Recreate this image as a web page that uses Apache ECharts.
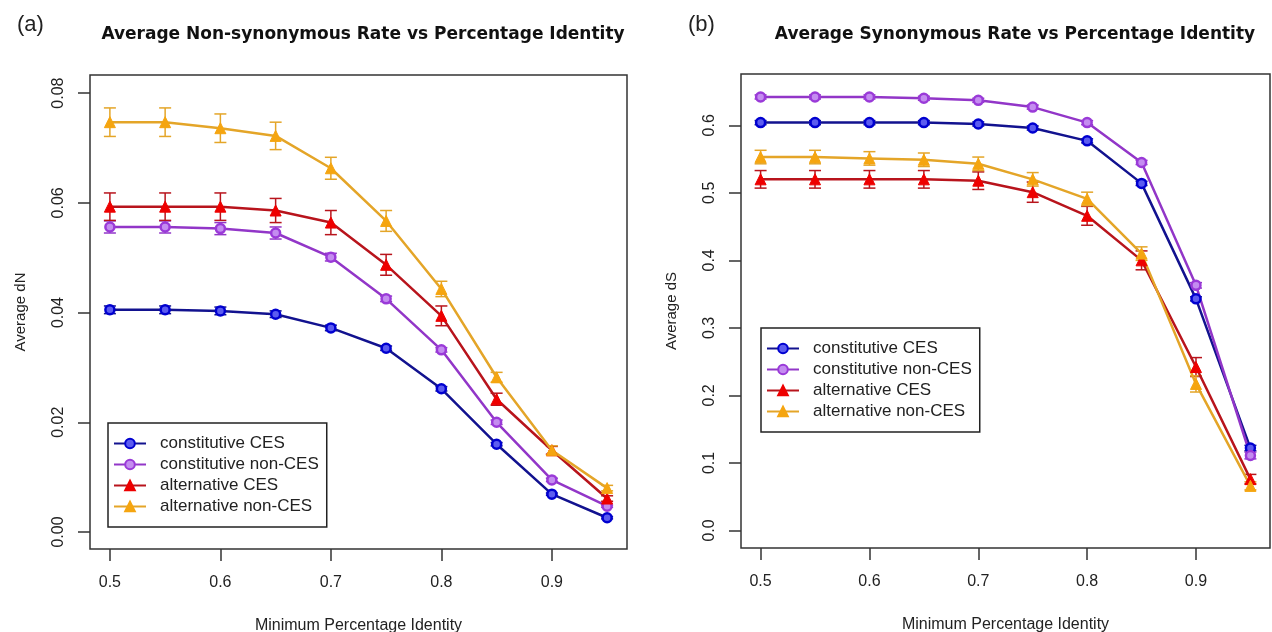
<!DOCTYPE html>
<html>
<head>
<meta charset="utf-8">
<script src="https://cdn.jsdelivr.net/npm/echarts@6/dist/echarts.min.js"></script>
<style>
  html, body { margin: 0; padding: 0; background: #fff; }
  #chart { width: 1272px; height: 632px; }
</style>
</head>
<body>
<div id="chart"></div>
<script>
// minimum percentage identity thresholds
const identity = [0.5, 0.55, 0.6, 0.65, 0.7, 0.75, 0.8, 0.85, 0.9, 0.95];

const seriesNames = ["constitutive CES", "constitutive non-CES", "alternative CES", "alternative non-CES"];

// (a) average dN
const dnConstCES    = [0.0405, 0.0405, 0.0403, 0.0397, 0.0372, 0.0335, 0.0261, 0.0160, 0.0069, 0.0026];
const dnConstNonCES = [0.0556, 0.0556, 0.0553, 0.0545, 0.0501, 0.0425, 0.0332, 0.0200, 0.0095, 0.0047];
const dnAltCES      = [0.0593, 0.0593, 0.0593, 0.0586, 0.0564, 0.0487, 0.0394, 0.0242, 0.0149, 0.0061];
const dnAltNonCES   = [0.0747, 0.0747, 0.0736, 0.0722, 0.0663, 0.0567, 0.0443, 0.0282, 0.0149, 0.0080];

const dnConstCESErr    = [0.0007, 0.0007, 0.0007, 0.0006, 0.0005, 0.0004, 0.0004, 0.0003, 0.0002, 0.0002];
const dnConstNonCESErr = [0.0011, 0.0011, 0.0011, 0.0011, 0.0007, 0.0005, 0.0004, 0.0004, 0.0003, 0.0002];
const dnAltCESErr      = [0.0025, 0.0025, 0.0025, 0.0022, 0.0022, 0.0019, 0.0018, 0.0011, 0.0007, 0.0005];
const dnAltNonCESErr   = [0.0026, 0.0026, 0.0026, 0.0025, 0.0020, 0.0019, 0.0014, 0.0009, 0.0008, 0.0005];

// (b) average dS
const dsConstCES    = [0.604, 0.604, 0.604, 0.604, 0.602, 0.596, 0.577, 0.514, 0.343, 0.122];
const dsConstNonCES = [0.642, 0.642, 0.642, 0.640, 0.637, 0.627, 0.604, 0.545, 0.363, 0.111];
const dsAltCES      = [0.520, 0.520, 0.520, 0.520, 0.518, 0.501, 0.466, 0.400, 0.242, 0.076];
const dsAltNonCES   = [0.553, 0.553, 0.551, 0.549, 0.543, 0.520, 0.491, 0.410, 0.217, 0.066];

const dsConstCESErr    = [0.003, 0.003, 0.003, 0.003, 0.003, 0.003, 0.003, 0.003, 0.003, 0.004];
const dsConstNonCESErr = [0.003, 0.003, 0.003, 0.003, 0.003, 0.003, 0.003, 0.003, 0.004, 0.005];
const dsAltCESErr      = [0.013, 0.013, 0.013, 0.013, 0.013, 0.015, 0.014, 0.014, 0.014, 0.007];
const dsAltNonCESErr   = [0.010, 0.010, 0.010, 0.010, 0.010, 0.010, 0.010, 0.010, 0.012, 0.006];

const xTicks = [0.5, 0.6, 0.7, 0.8, 0.9];
const dnTicks = [0, 0.02, 0.04, 0.06, 0.08];
const dsTicks = [0, 0.1, 0.2, 0.3, 0.4, 0.5, 0.6];

const lineColors   = ["#12128f", "#9236c8", "#b8141c", "#e4a528"];
const markerColors = ["#0000d0", "#9a3ad8", "#ee0000", "#f5a510"];
const markerFills  = ["#5c5cf0", "#c48cf0", "#ee0000", "#f5a510"];
const symbols = ["circle", "circle", "triangle", "triangle"];
const symbolSizes = [9, 9, 11, 11];

const FONT = "Liberation Sans";

const chart = echarts.init(document.getElementById("chart"));

function pairs(vals) {
  return identity.map((x, i) => [x, vals[i]]);
}
function errPairs(vals, errs) {
  return identity.map((x, i) => [x, vals[i] - errs[i], vals[i] + errs[i]]);
}

function errorBars(idx, color, data) {
  return {
    type: "custom",
    name: "err" + idx,
    xAxisIndex: idx,
    yAxisIndex: idx,
    silent: true,
    z: 1,
    data: data,
    renderItem: (params, api) => {
      const lo = api.coord([api.value(0), api.value(1)]);
      const hi = api.coord([api.value(0), api.value(2)]);
      const cap = 6;
      const style = { stroke: color, lineWidth: 1.5 };
      return {
        type: "group",
        children: [
          { type: "line", shape: { x1: lo[0], y1: lo[1], x2: hi[0], y2: hi[1] }, style },
          { type: "line", shape: { x1: lo[0] - cap, y1: lo[1], x2: lo[0] + cap, y2: lo[1] }, style },
          { type: "line", shape: { x1: hi[0] - cap, y1: hi[1], x2: hi[0] + cap, y2: hi[1] }, style },
        ],
      };
    },
  };
}

function lineSeries(idx, k, vals) {
  return {
    type: "line",
    name: seriesNames[k],
    xAxisIndex: idx,
    yAxisIndex: idx,
    data: pairs(vals),
    symbol: symbols[k],
    symbolSize: symbolSizes[k],
    showAllSymbol: true,
    z: 3,
    lineStyle: { color: lineColors[k], width: 2.5 },
    itemStyle: { color: markerFills[k], borderColor: markerColors[k], borderWidth: k < 2 ? 2.5 : 1 },
  };
}

const panelA = [dnConstCES, dnConstNonCES, dnAltCES, dnAltNonCES];
const panelAErr = [dnConstCESErr, dnConstNonCESErr, dnAltCESErr, dnAltNonCESErr];
const panelB = [dsConstCES, dsConstNonCES, dsAltCES, dsAltNonCES];
const panelBErr = [dsConstCESErr, dsConstNonCESErr, dsAltCESErr, dsAltNonCESErr];

const series = [];
panelA.forEach((vals, k) => series.push(errorBars(0, lineColors[k], errPairs(vals, panelAErr[k]))));
panelA.forEach((vals, k) => series.push(lineSeries(0, k, vals)));
panelB.forEach((vals, k) => series.push(errorBars(1, lineColors[k], errPairs(vals, panelBErr[k]))));
panelB.forEach((vals, k) => series.push(lineSeries(1, k, vals)));

const tickStyle = { show: true, inside: false, length: 12, lineStyle: { color: "#333", width: 1.5 } };
const labelStyle = { color: "#222", fontFamily: FONT, fontSize: 16 };

function xAxis(gridIndex) {
  return {
    type: "value",
    gridIndex,
    min: 0.482,
    max: 0.968,
    name: "Minimum Percentage Identity",
    nameLocation: "middle",
    nameGap: 69,
    nameTextStyle: { color: "#222", fontFamily: FONT, fontSize: 16 },
    axisLine: { show: false, onZero: false },
    splitLine: { show: false },
    axisTick: Object.assign({ customValues: xTicks }, tickStyle),
    axisLabel: Object.assign({ customValues: xTicks, margin: 26, formatter: (v) => v.toFixed(1) }, labelStyle),
  };
}

function yAxis(gridIndex, name, min, max, ticks, digits, gap) {
  return {
    type: "value",
    gridIndex,
    min,
    max,
    name,
    nameLocation: "middle",
    nameRotate: 90,
    nameGap: gap,
    nameTextStyle: { color: "#222", fontFamily: FONT, fontSize: 15 },
    axisLine: { show: false, onZero: false },
    splitLine: { show: false },
    axisTick: Object.assign({ customValues: ticks }, tickStyle),
    axisLabel: Object.assign({ customValues: ticks, rotate: 90, margin: 23, formatter: (v) => v.toFixed(digits) }, labelStyle),
  };
}

function legend(left, top) {
  return {
    left,
    top,
    orient: "vertical",
    data: seriesNames,
    selectedMode: false,
    backgroundColor: "#fff",
    borderColor: "#222",
    borderWidth: 1.5,
    borderRadius: 0,
    padding: [12, 8, 12, 5],
    itemGap: 4,
    itemWidth: 32,
    itemHeight: 12,
    textStyle: { color: "#222", fontFamily: FONT, fontSize: 17, padding: [0, 0, 0, 9] },
  };
}

const titleFont = { fontFamily: "DejaVu Sans", fontSize: 17, fontWeight: "bold", color: "#111" };

chart.setOption({
  animation: false,
  backgroundColor: "#fff",
  title: [
    { text: "(a)", left: 12, top: 9, textStyle: { fontFamily: FONT, fontSize: 22, fontWeight: "normal", color: "#222" } },
    { text: "Average Non-synonymous Rate vs Percentage Identity", left: 358, top: 21, textAlign: "center", textStyle: titleFont },
    { text: "(b)", left: 683, top: 9, textStyle: { fontFamily: FONT, fontSize: 22, fontWeight: "normal", color: "#222" } },
    { text: "Average Synonymous Rate vs Percentage Identity", left: 1010, top: 21, textAlign: "center", textStyle: titleFont },
  ],
  grid: [
    { left: 90, top: 75, width: 537, height: 474, outerBoundsMode: "none", show: true, borderColor: "#333", borderWidth: 1.5, backgroundColor: "#fff" },
    { left: 741, top: 74, width: 529, height: 474, outerBoundsMode: "none", show: true, borderColor: "#333", borderWidth: 1.5, backgroundColor: "#fff" },
  ],
  xAxis: [xAxis(0), xAxis(1)],
  yAxis: [
    yAxis(0, "Average dN", -0.0031, 0.0833, dnTicks, 2, 62),
    yAxis(1, "Average dS", -0.026, 0.676, dsTicks, 1, 62),
  ],
  legend: [legend(108, 423), legend(761, 328)],
  series,
});
</script>
</body>
</html>
